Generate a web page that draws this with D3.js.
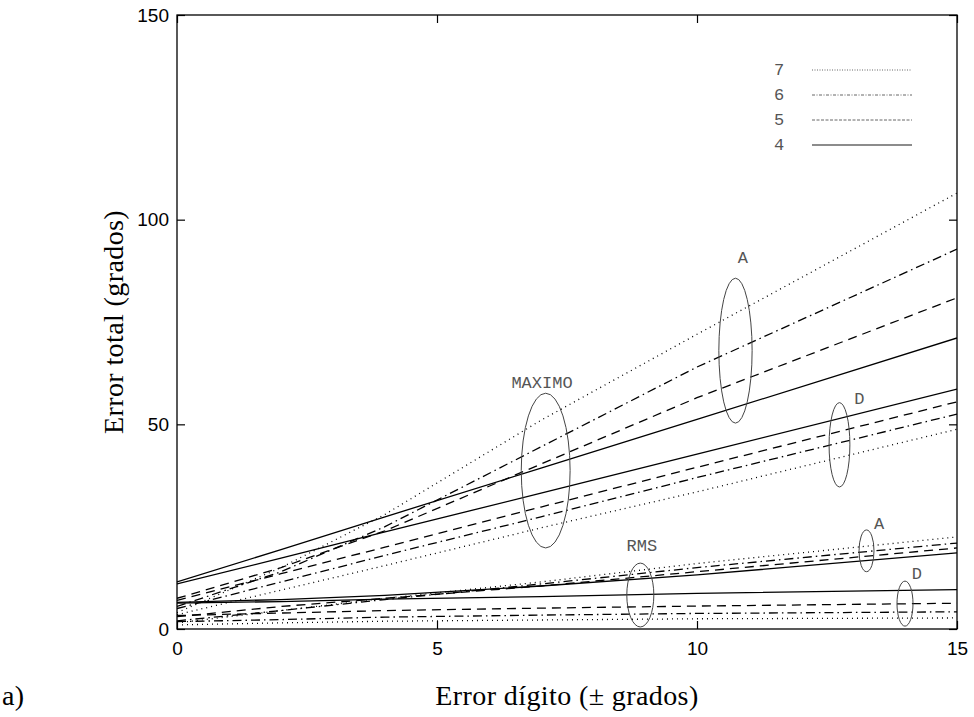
<!DOCTYPE html>
<html>
<head>
<meta charset="utf-8">
<script src="https://cdn.jsdelivr.net/npm/d3@7"></script>
<style>
  body { margin: 0; background: #fff; }
  .tick text { font-family: "Liberation Sans", Arial, sans-serif; font-size: 19px; }
  .titulo { font-family: "Liberation Serif", "DejaVu Serif", serif; font-size: 28px; letter-spacing: 0.4px; }
  .anot { font-family: "Liberation Mono", "DejaVu Sans Mono", monospace; font-size: 17px; fill: #555; }
</style>
</head>
<body>
<div id="grafico"></div>
<script>
// valores (error digito en grados)
var xVals = [0, 2, 4, 7, 10, 15];

// MAXIMO, rama A
var maxA4 = [11.5, 19.4, 27.4, 39.3, 51.2, 71.1];
var maxA5 = [7.5, 15, 24, 40.3, 56.5, 80.9];
var maxA6 = [5.5, 14, 25, 44.5, 64, 92.8];
var maxA7 = [4, 15, 28, 51, 72, 106.5];
// MAXIMO, rama D
var maxD4 = [11, 17.3, 23.7, 33.2, 42.7, 58.6];
var maxD5 = [7, 13.5, 20, 29.8, 39.5, 55.5];
var maxD6 = [5, 11.5, 18, 27.4, 37, 52.5];
var maxD7 = [3.5, 9.5, 15.5, 24.7, 33.5, 48.8];
// RMS, rama A
var rmsA4 = [6.5, 7.2, 8.2, 10.5, 13.2, 18.6];
var rmsA5 = [3, 5.5, 7.5, 10.5, 14, 19.8];
var rmsA6 = [2, 4.5, 7.2, 11, 15, 21];
var rmsA7 = [1.5, 4.5, 7.5, 11.5, 16, 22.5];
// RMS, rama D
var rmsD4 = [6.3, 6.7, 7.3, 7.9, 8.7, 9.6];
var rmsD5 = [3.3, 3.9, 4.5, 5.1, 5.6, 6.3];
var rmsD6 = [1.8, 2.3, 2.9, 3.4, 3.8, 4.2];
var rmsD7 = [1.0, 1.5, 1.9, 2.2, 2.5, 2.7];

var leyenda = ["7", "6", "5", "4"];
var xTicks = [0, 5, 10, 15];
var yTicks = [0, 50, 100, 150];

// elipses: centro y semiejes en unidades de los datos
var elipses = [
  {cx: 7.09, cy: 38.7, rx: 0.47, ry: 18.9},
  {cx: 10.74, cy: 68.0, rx: 0.32, ry: 17.7},
  {cx: 12.74, cy: 45.0, rx: 0.2, ry: 10.3},
  {cx: 8.91, cy: 8.3, rx: 0.26, ry: 7.8},
  {cx: 13.26, cy: 19.1, rx: 0.144, ry: 5.1},
  {cx: 14.0, cy: 6.2, rx: 0.154, ry: 5.5}
];
var etiquetas = [
  {t: "MAXIMO", x: 7.02, y: 60.3},
  {t: "A", x: 10.88, y: 90.9},
  {t: "D", x: 13.12, y: 56.4},
  {t: "RMS", x: 8.94, y: 20.5},
  {t: "A", x: 13.5, y: 25.9},
  {t: "D", x: 14.23, y: 13.7}
];

var series = [
  {n: "7", v: maxA7}, {n: "6", v: maxA6}, {n: "5", v: maxA5}, {n: "4", v: maxA4},
  {n: "7", v: maxD7}, {n: "6", v: maxD6}, {n: "5", v: maxD5}, {n: "4", v: maxD4},
  {n: "7", v: rmsA7}, {n: "6", v: rmsA6}, {n: "5", v: rmsA5}, {n: "4", v: rmsA4},
  {n: "7", v: rmsD7}, {n: "6", v: rmsD6}, {n: "5", v: rmsD5}, {n: "4", v: rmsD4}
];

var trazos = {"7": "1,4", "6": "9,4,1.5,4", "5": "9,6", "4": null};
var trazosLey = {"7": "1,1.5", "6": "3,1.5,1,1.5", "5": "3,1.5", "4": null};

var margin = {top: 15, right: 17, bottom: 88, left: 177},
    width = 974 - margin.left - margin.right,
    height = 717 - margin.top - margin.bottom;

var svg = d3.select("#grafico").append("svg")
    .attr("width", 974)
    .attr("height", 717)
  .append("g")
    .attr("transform", "translate(" + margin.left + "," + margin.top + ")");

var x = d3.scaleLinear().domain([0, 15]).range([0, width]);
var y = d3.scaleLinear().domain([0, 150]).range([height, 0]);

svg.append("clipPath").attr("id", "recorte")
  .append("rect").attr("width", width).attr("height", height);

var linea = d3.line()
    .x(function(d, i) { return x(xVals[i]); })
    .y(function(d) { return y(d); });

svg.append("g").attr("clip-path", "url(#recorte)")
  .selectAll("path")
  .data(series)
  .enter()
  .append("path")
    .attr("d", function(d) { return linea(d.v); })
    .attr("fill", "none")
    .attr("stroke", "#000")
    .attr("stroke-width", 1.3)
    .attr("stroke-dasharray", function(d) { return trazos[d.n]; });

// ejes con marcas hacia dentro
function estilo(g) {
  g.select(".domain").remove();
  g.selectAll(".tick line").attr("stroke", "#000").attr("stroke-width", 1.2);
}
svg.append("g")
  .attr("transform", "translate(0," + height + ")")
  .call(d3.axisBottom(x).tickValues(xTicks).tickSizeInner(-8).tickPadding(10))
  .call(estilo)
  .selectAll("text").attr("dy", "0.85em");
svg.append("g")
  .call(d3.axisTop(x).tickValues(xTicks).tickSizeInner(-8).tickFormat(""))
  .call(estilo);
svg.append("g")
  .call(d3.axisLeft(y).tickValues(yTicks).tickSizeInner(-8).tickPadding(8))
  .call(estilo);
svg.append("g")
  .attr("transform", "translate(" + width + ",0)")
  .call(d3.axisRight(y).tickValues(yTicks).tickSizeInner(-8).tickFormat(""))
  .call(estilo);

svg.append("rect")
  .attr("width", width).attr("height", height)
  .attr("fill", "none").attr("stroke", "#000").attr("stroke-width", 1.3);

// elipses y etiquetas
svg.selectAll("ellipse")
  .data(elipses)
  .enter()
  .append("ellipse")
    .attr("cx", function(d) { return x(d.cx); })
    .attr("cy", function(d) { return y(d.cy); })
    .attr("rx", function(d) { return x(d.rx) - x(0); })
    .attr("ry", function(d) { return y(0) - y(d.ry); })
    .attr("fill", "none")
    .attr("stroke", "#444")
    .attr("stroke-width", 1);

svg.selectAll(".etq")
  .data(etiquetas)
  .enter()
  .append("text")
    .attr("class", "anot")
    .attr("x", function(d) { return x(d.x); })
    .attr("y", function(d) { return y(d.y); })
    .attr("dy", "0.35em")
    .attr("text-anchor", "middle")
    .text(function(d) { return d.t; });

// leyenda
var ley = svg.append("g").attr("transform", "translate(" + (779 - margin.left) + "," + (69 - margin.top) + ")");
leyenda.forEach(function(k, i) {
  ley.append("text")
    .attr("class", "anot")
    .attr("x", 0).attr("y", i * 25)
    .attr("dy", "0.35em")
    .attr("text-anchor", "middle")
    .text(k);
  ley.append("line")
    .attr("x1", 33).attr("x2", 133)
    .attr("y1", i * 25 + 1).attr("y2", i * 25 + 1)
    .attr("stroke", "#666")
    .attr("stroke-width", k === "4" ? 1.5 : 1)
    .attr("stroke-dasharray", trazosLey[k]);
});

// titulos
svg.append("text")
  .attr("class", "titulo")
  .attr("text-anchor", "middle")
  .attr("transform", "translate(" + (113 - margin.left) + "," + (322 - margin.top) + ") rotate(-90)")
  .attr("dy", "0.35em")
  .text("Error total (grados)");
svg.append("text")
  .attr("class", "titulo")
  .attr("text-anchor", "middle")
  .attr("x", 567 - margin.left)
  .attr("y", 695 - margin.top)
  .attr("dy", "0.35em")
  .text("Error dígito (± grados)");
svg.append("text")
  .attr("class", "titulo")
  .attr("x", 2 - margin.left)
  .attr("y", 695 - margin.top)
  .attr("dy", "0.35em")
  .text("a)");
</script>
</body>
</html>
